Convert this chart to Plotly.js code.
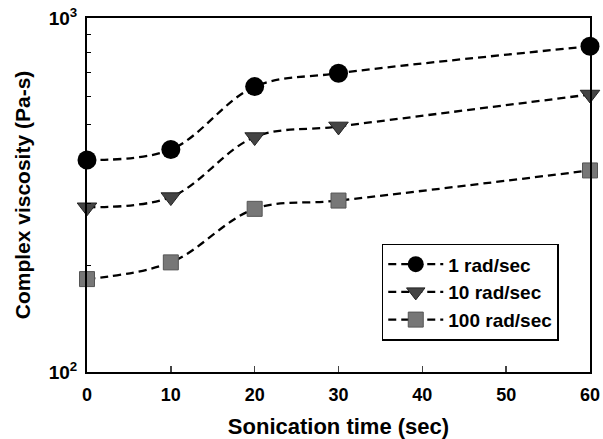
<!DOCTYPE html>
<html>
<head>
<meta charset="utf-8">
<script src="https://cdn.plot.ly/plotly-3.0.1.min.js"></script>
<style>html,body{margin:0;padding:0;background:#fff;}#chart{width:603px;height:439px;}</style>
</head>
<body>
<div id="chart"></div>
<script>
const sonicationTime = [0, 10, 20, 30, 60];
const seriesNames = ["1 rad/sec", "10 rad/sec", "100 rad/sec"];
const visc1 = [397, 425, 640, 698, 832];
const visc10 = [292, 312, 461, 494, 608];
const visc100 = [183, 204, 289, 305, 371];
const yTickVals = [100, 1000];
const yTickText = ["10<sup>2</sup>", "10<sup>3</sup>"];
const yMinorVals = [200, 300, 400, 500, 600, 700, 800, 900];
const xTickVals = [0, 10, 20, 30, 40, 50, 60];

const fontFam = "Liberation Sans, Arial, sans-serif";
const lineStyle = {color: "#000", width: 2.3, dash: "8px,5px", shape: "spline", smoothing: 1};

const traces = [
  {x: sonicationTime, y: visc1, name: seriesNames[0], mode: "lines+markers", cliponaxis: false,
   line: lineStyle, marker: {symbol: "circle", size: 19, color: "#000"}},
  {x: sonicationTime, y: visc10, name: seriesNames[1], mode: "lines+markers", cliponaxis: false,
   line: lineStyle, marker: {symbol: "triangle-down", size: 17, color: "#444", line: {color: "#222", width: 1}}},
  {x: sonicationTime, y: visc100, name: seriesNames[2], mode: "lines+markers", cliponaxis: false,
   line: lineStyle, marker: {symbol: "square", size: 15, color: "#777", line: {color: "#555", width: 1}}}
];

const layout = {
  width: 603, height: 439,
  margin: {l: 87, r: 13, t: 18, b: 67},
  paper_bgcolor: "#fff", plot_bgcolor: "#fff",
  font: {family: fontFam, color: "#000", size: 18, weight: "bold"},
  showlegend: true,
  legend: {x: 0.586, y: 0.362, xanchor: "left", yanchor: "top",
    bgcolor: "#fff", bordercolor: "#000", borderwidth: 1.5,
    font: {family: fontFam, size: 19, weight: "bold", color: "#000"},
    tracegroupgap: 0, itemwidth: 55},
  xaxis: {
    range: [0, 60], tickvals: xTickVals, ticks: "inside", ticklen: 6, tickwidth: 1.5,
    showline: true, linecolor: "#000", linewidth: 2, mirror: true, showgrid: false, zeroline: false,
    tickfont: {family: fontFam, size: 18, weight: "bold"}, ticklabelstandoff: 5,
    title: {text: "Sonication time (sec)", font: {family: fontFam, size: 22, weight: "bold"}, standoff: 19}
  },
  yaxis: {
    type: "log", range: [2, 3], tickvals: yTickVals, ticktext: yTickText,
    ticks: "inside", ticklen: 4, tickwidth: 1,
    minor: {tickvals: yMinorVals, ticks: "inside", ticklen: 4, tickwidth: 1, tickcolor: "#000", showgrid: false},
    showline: true, linecolor: "#000", linewidth: 2, mirror: true, showgrid: false, zeroline: false,
    tickfont: {family: fontFam, size: 19, weight: "bold"}, ticklabelstandoff: 4,
    title: {text: "Complex viscosity (Pa-s)", font: {family: fontFam, size: 21, weight: "bold"}, standoff: 12}
  }
};

Plotly.newPlot("chart", traces, layout, {displayModeBar: false, staticPlot: true});
</script>
</body>
</html>
